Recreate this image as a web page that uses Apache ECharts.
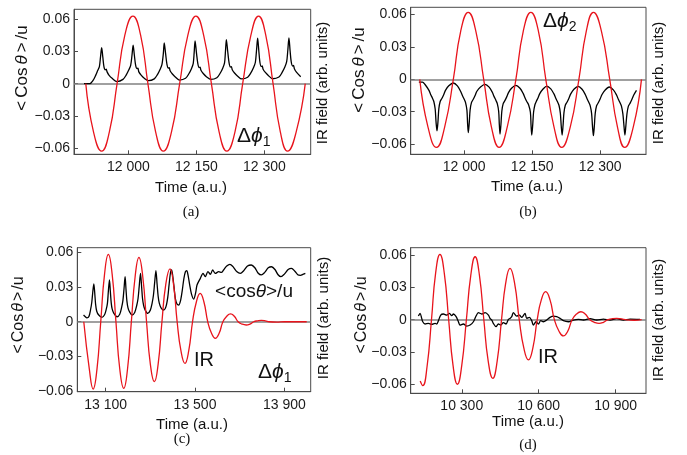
<!DOCTYPE html>
<html><head><meta charset="utf-8">
<script src="https://cdn.jsdelivr.net/npm/echarts@6/dist/echarts.min.js"></script>
<style>html,body{margin:0;padding:0;background:#fff}#c{width:687px;height:455px}</style>
</head><body><div id="c"></div>
<script>
// ---------- tick values ----------
const xTicksAB = [12000, 12150, 12300];
const xTicksC = [13100, 13500, 13900];
const xTicksD = [10300, 10600, 10900];
const yTicks = [-0.06, -0.03, 0, 0.03, 0.06];

// ---------- panel (a) ----------
const redA = [[11906,0],[11923,-0.045],[11941,-0.063],[11958,-0.045],[11975,0],[11992,0.045],[12010,0.063],[12027,0.045],[12043,0],[12060,-0.045],[12077,-0.063],[12095,-0.045],[12113,0],[12131,0.045],[12149,0.063],[12166,0.045],[12183,0],[12200,-0.045],[12217,-0.063],[12235,-0.045],[12252,0],[12270,0.045],[12287,0.063],[12303,0.045],[12319,0],[12335,-0.045],[12351,-0.063],[12370,-0.045],[12390,0]];
const cosA = [[11902,0],[11915,0],[11922,0.003],[11928,0.008],[11932,0.012],[11936,0.016],[11938.5,0.025],[11941,0.0335],[11943.5,0.025],[11946,0.016],[11949,0.013],[11951,0.0135],[11953,0.011],[11957,0.008],[11964,0.005],[11975,0.002],
[11988,0.004],[11995,0.008],[12001,0.013],[12005,0.017],[12008,0.027],[12010.4,0.036],[12013,0.027],[12016,0.017],[12019,0.014],[12021,0.0145],[12023,0.011],[12028,0.008],[12035,0.005],[12044,0.0028],
[12057,0.0045],[12064,0.0085],[12070,0.0135],[12074,0.018],[12077,0.028],[12079,0.038],[12082,0.028],[12085,0.018],[12088,0.0145],[12090,0.015],[12092,0.012],[12097,0.009],[12104,0.006],[12113,0.0034],
[12126,0.005],[12133,0.009],[12139,0.014],[12143,0.019],[12145,0.029],[12147,0.0398],[12150,0.029],[12153,0.019],[12156,0.015],[12158,0.0155],[12160,0.0125],[12165,0.0095],[12172,0.0065],[12182,0.004],
[12195,0.0055],[12202,0.0095],[12208,0.0145],[12212,0.0195],[12214,0.03],[12216,0.041],[12219,0.03],[12222,0.0195],[12225,0.0155],[12227,0.016],[12229,0.013],[12234,0.01],[12241,0.007],[12250,0.0044],
[12263,0.006],[12270,0.01],[12276,0.015],[12280,0.02],[12282.5,0.031],[12285,0.0424],[12287.5,0.031],[12290,0.02],[12293,0.016],[12295,0.0165],[12297,0.0135],[12302,0.0105],[12309,0.0075],[12318,0.0046],
[12332,0.0062],[12339,0.0105],[12345,0.0155],[12349,0.0205],[12351.5,0.031],[12354,0.0426],[12356.5,0.031],[12359,0.0205],[12362,0.0165],[12364,0.017],[12366,0.014],[12371,0.0105],[12380,0.0065]];

// ---------- panel (b) ----------
const redB = [[11902,0],[11920,-0.044],[11939,-0.063],[11957,-0.044],[11976,0],[11992,0.044],[12009,0.062],[12026,0.044],[12043,0],[12060,-0.044],[12077,-0.063],[12095,-0.044],[12114,0],[12130,0.044],[12147,0.062],[12164,0.044],[12180,0],[12198,-0.044],[12215,-0.063],[12234,-0.044],[12253,0],[12269,0.044],[12285,0.062],[12303,0.044],[12321,0],[12338,-0.044],[12354,-0.063],[12373,-0.044],[12391,0]];
const cosB = [[11900,-0.0025],[11908,-0.0025],[11914,-0.005],[11922,-0.01],[11926,-0.014],[11930,-0.0175],[11933,-0.0205],[11936,-0.0275],[11938,-0.04],[11940,-0.0476],[11942,-0.04],[11944,-0.0275],[11947,-0.0205],[11951,-0.0175],[11955,-0.014],[11959,-0.01],[11966,-0.006],[11976,-0.0034],
[11985,-0.006],[11992,-0.011],[11996,-0.015],[12000,-0.0185],[12003,-0.0215],[12006,-0.0285],[12007.5,-0.041],[12009,-0.0494],[12011,-0.041],[12013,-0.0285],[12016,-0.0215],[12020,-0.0185],[12024,-0.015],[12028,-0.011],[12036,-0.007],[12046,-0.0046],
[12055,-0.0072],[12062,-0.012],[12066,-0.016],[12070,-0.0195],[12073,-0.0225],[12076,-0.0295],[12077.5,-0.042],[12079,-0.0506],[12081,-0.042],[12083,-0.0295],[12086,-0.0225],[12090,-0.0195],[12094,-0.016],[12098,-0.012],[12105,-0.008],[12114,-0.0056],
[12123,-0.0082],[12130,-0.013],[12134,-0.017],[12138,-0.0205],[12142,-0.0235],[12146,-0.0305],[12147.5,-0.043],[12149,-0.0516],[12151,-0.043],[12153,-0.0305],[12156,-0.0235],[12159,-0.0205],[12163,-0.017],[12167,-0.013],[12174,-0.009],[12182,-0.0062],
[12191,-0.0088],[12198,-0.0135],[12202,-0.0175],[12206,-0.021],[12209,-0.024],[12212,-0.031],[12214,-0.043],[12216,-0.0516],[12218,-0.043],[12220,-0.031],[12223,-0.024],[12227,-0.021],[12231,-0.0175],[12235,-0.0135],[12242,-0.0092],[12251.5,-0.0065],
[12260,-0.0092],[12267,-0.014],[12271,-0.018],[12275,-0.0215],[12278,-0.0245],[12281,-0.0315],[12283,-0.0435],[12285,-0.0522],[12287,-0.0435],[12289,-0.0315],[12292,-0.0245],[12296,-0.0215],[12300,-0.018],[12304,-0.014],[12311,-0.0098],[12320,-0.0071],
[12329,-0.0098],[12336,-0.0145],[12340,-0.0185],[12344,-0.022],[12347,-0.025],[12350,-0.032],[12352.5,-0.0435],[12354.5,-0.0516],[12356.5,-0.0435],[12359,-0.032],[12362,-0.025],[12366,-0.022],[12370,-0.0185],[12374,-0.0145],[12380,-0.0102]];

// ---------- panel (c) ----------
const redC = [[13002,0],[13027,-0.041],[13044,-0.058],[13061,-0.041],[13078,0],[13095,0.041],[13112,0.058],[13129,0.041],[13146,0],[13163,-0.0405],[13181,-0.0574],[13198,-0.0405],[13215,0],[13232,0.039],[13249,0.0555],[13266,0.039],[13283,0],[13300,-0.0365],[13318,-0.0517],[13335,-0.0365],[13352,0],[13369,0.032],[13388,0.0455],[13404,0.032],[13420,0],[13437,-0.025],[13455,-0.0359],[13472,-0.025],[13489,0],[13506,0.017],[13523,0.0245],[13540,0.017],[13557,0],[13574,-0.01],[13591,-0.0143],[13608,-0.01],[13625,0],[13642,0.0047],[13659,0.0068],[13676,0.0047],[13693,0],[13710,-0.002],[13729,-0.0028],[13746,-0.002],[13763,0],[13780,0.0008],[13797,0.0012],[13815,0.0008],[13832,0],[13866,-0.0004],[13900,0],[14000,0]];
const cosC = [[13001,0.0058],[13008,0.0045],[13016,0.0033],[13025,0.0045],[13033,0.011],[13038,0.017],[13042,0.025],[13047,0.0325],[13051,0.025],[13055,0.015],[13060,0.009],[13068,0.006],[13083,0.0038],
[13095,0.006],[13103,0.011],[13108,0.016],[13112,0.026],[13117,0.036],[13121,0.026],[13125,0.016],[13129,0.011],[13136,0.0075],[13151,0.0043],
[13163,0.0065],[13171,0.012],[13177,0.018],[13182,0.028],[13187,0.0388],[13191,0.028],[13195,0.018],[13200,0.012],[13207,0.0085],[13218,0.0058],
[13230,0.008],[13239,0.014],[13245,0.02],[13250,0.03],[13256,0.0417],[13261,0.03],[13265,0.02],[13270,0.014],[13277,0.01],[13288,0.0072],
[13300,0.01],[13308,0.016],[13314,0.023],[13319,0.033],[13325,0.044],[13330,0.033],[13335,0.022],[13340,0.016],[13348,0.012],[13360,0.0101],
[13370,0.013],[13378,0.021],[13384,0.032],[13390,0.042],[13395,0.0446],[13400,0.04],[13406,0.03],[13412,0.02],[13420,0.015],[13427,0.0144],
[13435,0.018],[13443,0.027],[13450,0.037],[13457,0.043],[13463,0.044],[13469,0.04],[13476,0.032],[13484,0.024],[13494,0.0195],
[13503,0.025],[13509,0.0316],[13524,0.0374],[13536,0.0417],[13546,0.0388],[13558,0.0431],[13569,0.0409],[13579,0.0446],[13591,0.0417],[13606,0.0431],[13618,0.0425],[13628,0.0446],[13642,0.048],[13656,0.0495],[13670,0.0475],[13688,0.043],[13703,0.0417],[13718,0.044],[13735,0.048],[13752,0.0489],[13768,0.0465],[13782,0.042],[13797,0.0403],[13812,0.0425],[13828,0.0465],[13843,0.0474],[13858,0.045],[13872,0.0405],[13885,0.0388],[13900,0.041],[13917,0.045],[13932,0.046],[13947,0.0435],[13960,0.0405],[13972,0.04],[13985,0.041],[13994,0.0417]];

// ---------- panel (d) ----------
const redD = [[10138,-0.057],[10148,-0.0613],[10165,-0.043],[10182,0],[10198,0.043],[10215,0.0607],[10232,0.043],[10249,0],[10266,-0.0425],[10283,-0.06],[10300,-0.0425],[10318,0],[10335,0.041],[10352,0.0585],[10369,0.041],[10386,0],[10403,-0.0385],[10421,-0.0545],[10438,-0.0385],[10455,0],[10471,0.0337],[10488,0.0477],[10506,0.0337],[10524,0],[10542,-0.0265],[10560,-0.0374],[10577,-0.0265],[10594,0],[10610,0.0184],[10627,0.026],[10644,0.0184],[10661,0],[10679,-0.0107],[10696,-0.0151],[10713,-0.0107],[10730,0],[10747,0.0052],[10764,0.0074],[10781,0.0052],[10799,0],[10817,-0.0024],[10835,-0.0034],[10852,-0.0024],[10870,0],[10904,0.0013],[10938,0],[10972,-0.0005],[11001,0]];
const cosD = [[10131,0.0034],[10137.6,0.0059],[10144,0.0012],[10148,-0.0019],[10157,-0.004],[10170,-0.0034],[10183,-0.0043],[10196,-0.0034],[10202.5,-0.004],[10209,-0.0009],[10218,0.0043],[10228.5,0.0053],[10241.5,0.0043],[10252,0.0059],[10261,0.0037],[10267.4,0.0053],[10278,0.0028],[10287,-0.0019],[10293.4,-0.005],[10306.4,-0.004],[10319.4,-0.0059],[10332.4,-0.005],[10345.4,-0.0019],[10355.7,0.0034],[10364.8,0.0065],[10378,0.0053],[10391,0.0065],[10404,0.0043],[10410,0.0012],[10417,-0.0003],[10423,-0.0034],[10433.6,-0.0065],[10442.8,-0.004],[10452,-0.005],[10462,-0.0028],[10472.6,-0.004],[10481.7,0.0003],[10488,0.0012],[10494.7,0.0028],[10501,0.0065],[10514,0.0034],[10524.6,0.0043],[10533.7,0.0022],[10546.7,0.0059],[10553,0.0012],[10563.5,0.0022],[10572.6,-0.0009],[10579,-0.005],[10589.5,-0.0019],[10598.6,-0.004],[10607.7,-0.0009],[10618,-0.0019],[10631,-0.0003],[10644,0.0022],[10657,0.0034],[10670,0.0028],[10683,0.0012],[10696,-0.0009],[10715.5,-0.0019],[10735,-0.0003],[10754.5,0.0003],[10774,-0.0003],[10800,0.0009],[10826,-0.0003],[10852,0.0006],[10878,-0.0003],[10904,0.0009],[10930,-0.0003],[10956,0.0006],[10995,0.0003]];

// ---------- layout ----------
const SANS = 'Liberation Sans, Arial, Helvetica, sans-serif';
const SERIF = 'Liberation Serif, Times New Roman, serif';
const RED = '#e8141c';
const FRAME = '#4a4a4a';

const panels = [
  {g:{left:74, top:9.3, width:236.7, height:145}, x:[11880,12402], y:[-0.0659,0.0694], xt:xTicksAB, red:redA, cos:cosA},
  {g:{left:410.7, top:7.3, width:235.3, height:147}, x:[11882,12401], y:[-0.0694,0.0667], xt:xTicksAB, red:redB, cos:cosB},
  {g:{left:77.3, top:247.7, width:233.4, height:144}, x:[12973,14018], y:[-0.0603,0.0638], xt:xTicksC, red:redC, cos:cosC},
  {g:{left:410.7, top:247.7, width:235.3, height:145.6}, x:[10101,11018], y:[-0.0684,0.0669], xt:xTicksD, red:redD, cos:cosD}
];

const fmtX = v => { const s = String(Math.round(v)); return s.slice(0, s.length-3) + ' ' + s.slice(-3); };
const fmtY = v => Math.abs(v) < 1e-9 ? '0' : (v < 0 ? '\u2212' : '') + Math.abs(v).toFixed(2);

const grid = [], xAxis = [], yAxis = [], series = [];
panels.forEach((p, i) => {
  grid.push(Object.assign({show:true, borderColor:FRAME, borderWidth:1, backgroundColor:'transparent'}, p.g));
  xAxis.push({gridIndex:i, type:'value', min:p.x[0], max:p.x[1],
    axisLine:{show:true, onZero:false, lineStyle:{color:FRAME, width:1}},
    splitLine:{show:false},
    axisTick:{show:true, inside:true, length:4, lineStyle:{color:FRAME}, customValues:p.xt},
    axisLabel:{customValues:p.xt, formatter:fmtX, margin:6, color:'#1a1a1a', fontSize:14, fontFamily:SANS}});
  yAxis.push({gridIndex:i, type:'value', min:p.y[0], max:p.y[1],
    axisLine:{show:true, onZero:false, lineStyle:{color:FRAME, width:1}},
    splitLine:{show:false},
    axisTick:{show:true, inside:true, length:4, lineStyle:{color:FRAME}, customValues:yTicks},
    axisLabel:{customValues:yTicks, formatter:fmtY, margin:4, color:'#1a1a1a', fontSize:14, fontFamily:SANS}});
  series.push({type:'line', xAxisIndex:i, yAxisIndex:i, data:p.cos, showSymbol:false, smooth:0.3,
    lineStyle:{color:'#000', width:1.3}, z:3,
    markLine:{silent:true, symbol:['none','none'], label:{show:false}, lineStyle:{color:'#808080', width:1.6, type:'solid'}, data:[{yAxis:0}], z:1}});
  series.push({type:'line', xAxisIndex:i, yAxisIndex:i, data:p.red, showSymbol:false, smooth:0.5,
    lineStyle:{color:RED, width:1.3}, z:4});
});

function txt(x, y, text, o) {
  return Object.assign({type:'text', x:x, y:y, silent:true,
    style:Object.assign({text:text, fill:'#111', fontSize:15, fontFamily:SANS, align:'center', verticalAlign:'middle'}, o && o.style)},
    o && o.rotation !== undefined ? {rotation:o.rotation} : {});
}
const R90 = Math.PI/2;
const cosRich = (fs, pad) => ({
  a:{fontSize:fs, fontFamily:SANS, fill:'#111', padding:[0,pad,0,0]},
  b:{fontSize:fs, fontFamily:SANS, fill:'#111'},
  t:{fontSize:fs, fontFamily:SANS, fill:'#111', fontStyle:'italic', padding:[0,pad,0,pad]},
  c:{fontSize:fs, fontFamily:SANS, fill:'#111', padding:[0,pad,0,0]}
});
const COSLBL = '{a|<}{b|Cos}{t|θ}{c|>}{b|/u}';
const dphiRich = () => ({
  d:{fontSize:21, fontFamily:SANS, fill:'#111', lineHeight:26, verticalAlign:'middle'},
  p:{fontSize:21, fontFamily:SANS, fontStyle:'italic', fill:'#111', lineHeight:26, verticalAlign:'middle'},
  s:{fontSize:14, fontFamily:SANS, fill:'#111', lineHeight:14, verticalAlign:'bottom'}
});

const graphic = [
  // left axis titles
  txt(22, 68, COSLBL, {rotation:R90, style:{fontSize:17, rich:cosRich(17, 3)}}),
  txt(359, 70, COSLBL, {rotation:R90, style:{fontSize:17, rich:cosRich(17, 3)}}),
  txt(19, 315, COSLBL, {rotation:R90, style:{fontSize:16, rich:cosRich(16, 2)}}),
  txt(362, 315, COSLBL, {rotation:R90, style:{fontSize:16, rich:cosRich(16, 2)}}),
  // right axis titles
  txt(323, 83, 'IR field (arb. units)', {rotation:R90}),
  txt(659, 83, 'IR field (arb. units)', {rotation:R90}),
  txt(324, 318, 'IR field (arb. units)', {rotation:R90}),
  txt(659, 320, 'IR field (arb. units)', {rotation:R90}),
  // x axis titles
  txt(191, 188, 'Time (a.u.)'),
  txt(527, 187, 'Time (a.u.)'),
  txt(192, 425, 'Time (a.u.)'),
  txt(528, 422, 'Time (a.u.)'),
  // captions
  txt(191, 212, '(a)', {style:{fontFamily:SERIF, fontSize:15}}),
  txt(528, 212, '(b)', {style:{fontFamily:SERIF, fontSize:15}}),
  txt(182, 439, '(c)', {style:{fontFamily:SERIF, fontSize:15}}),
  txt(528, 445, '(d)', {style:{fontFamily:SERIF, fontSize:15}}),
  // annotations
  txt(237, 136, '{d|Δ}{p|ϕ}{s|1}', {style:{align:'left', rich:dphiRich()}}),
  txt(543, 21, '{d|Δ}{p|ϕ}{s|2}', {style:{align:'left', rich:dphiRich()}}),
  txt(258, 372, '{d|Δ}{p|ϕ}{s|1}', {style:{align:'left', rich:dphiRich()}}),
  txt(254, 292, '<cos{t|θ}>/u', {style:{fontSize:19, rich:{t:{fontStyle:'italic', fontSize:19, fontFamily:SANS, fill:'#111'}}}}),
  txt(204, 360, 'IR', {style:{fontSize:20}}),
  txt(548, 357, 'IR', {style:{fontSize:20}})
];

const chart = echarts.init(document.getElementById('c'), null, {renderer:'canvas'});
chart.setOption({animation:false, backgroundColor:'#fff', grid, xAxis, yAxis, series, graphic});
</script></body></html>
